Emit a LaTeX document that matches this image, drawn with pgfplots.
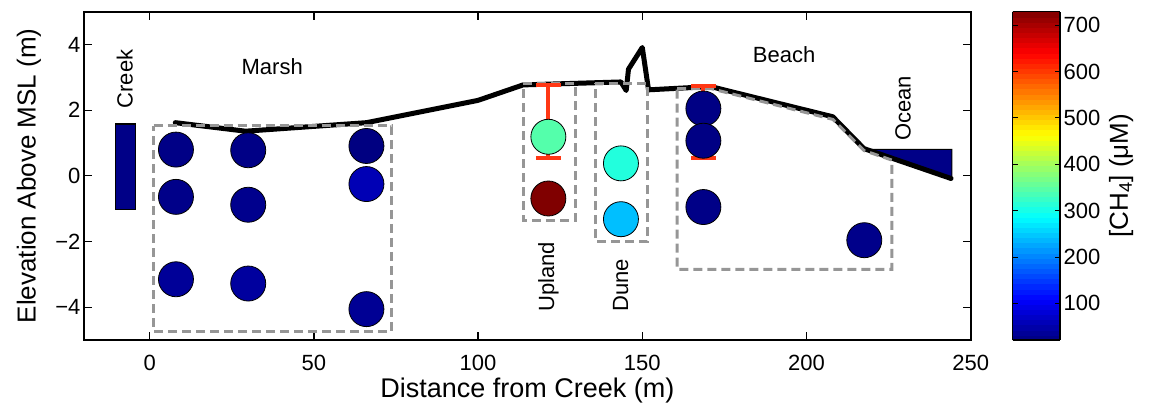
\documentclass[border=0pt]{standalone}
\usepackage{pgfplots}
\pgfplotsset{compat=1.18}
\usepackage{fontspec}
\setmainfont{Liberation Sans}

\definecolor{navy}{rgb}{0,0,0.53}
\definecolor{errred}{RGB}{255,55,20}
\definecolor{boxgray}{RGB}{150,150,150}

\pgfplotstableread{
x     y     c
8     0.80  25
8    -0.64  27
8    -3.15  38
30    0.78  25
30   -0.88  30
30   -3.28  42
66    0.91  22
66   -0.25  58
66   -4.06  35
121.4 1.19  345
121.4 -0.69 729
143.5 0.38  310
143.5 -1.32 242
168.6 2.05  24
168.6 1.07  24
168.6 -0.95 26
217.6 -1.96 28
}\pore

\begin{document}
\begin{tikzpicture}
\begin{axis}[
  scale only axis, width=886.7bp, height=328.3bp,
  xmin=-20, xmax=250, ymin=-5, ymax=5,
  xtick={0,50,...,250},
  ytick={-4,-2,...,4},
  yticklabels={−4,−2,0,2,4},
  tick align=inside, major tick length=8bp,
  axis line style={line width=2.2bp},
  tick style={line width=1.3bp, black},
  /pgf/number format/assume math mode=true,
  ticklabel style={font=\fontsize{22bp}{26bp}\selectfont},
  xticklabel style={yshift=-12bp},
  xlabel={Distance from Creek (m)},
  ylabel={Elevation Above MSL (m)},
  every axis x label/.style={at={(rel axis cs:0.5,0)}, anchor=center, yshift=-51bp,
    font=\fontsize{27bp}{31bp}\selectfont},
  every axis y label/.style={at={(rel axis cs:0,0.5)}, anchor=center, rotate=90, yshift=55bp,
    font=\fontsize{26bp}{30bp}\selectfont},
  colormap/jet,
  point meta min=21, point meta max=729,
  colorbar sampled,
  colorbar style={
    samples=65,
    at={(parent axis.north east)}, anchor=north west, xshift=33.3bp,
    scale only axis, width=47.7bp, height=328.3bp,
    ytick={100,200,...,700},
    tick align=inside, major tick length=5bp,
    ytick pos=both, yticklabel pos=right,
    axis line style={line width=1.5bp},
    tick style={line width=1bp, black},
    /pgf/number format/assume math mode=true,
    yticklabel style={font=\fontsize{22bp}{26bp}\selectfont},
    ylabel={[CH\textsubscript{4}] (μM)},
    every axis y label/.style={at={(rel axis cs:1,0.5)}, anchor=center, rotate=90, yshift=-61bp,
      font=\fontsize{26bp}{30bp}\selectfont},
  },
  clip=false,
]
\coordinate (o) at (rel axis cs:0,0);

% creek channel and ocean wedge
\addplot[fill=navy, draw=black, line width=1.2bp] coordinates {(-10.5,1.58) (-4.2,1.58) (-4.2,-1.02) (-10.5,-1.02)} -- cycle;
\addplot[fill=navy, draw=black, line width=1bp] coordinates {(218.7,0.81) (244.3,0.81) (244.3,-0.05)} -- cycle;

% surveyed ground profile
\addplot[black, line width=5bp, line join=round, line cap=round] coordinates {
(7.8,1.62) (29.2,1.36) (66,1.62) (100,2.3) (113.7,2.77) (143.5,2.86)
(145.1,2.6) (145.8,3.25) (150,3.91) (151.9,2.62) (170.8,2.72)
(208,1.8) (217.5,0.83) (244,-0.08)
};

% zone outlines
\pgfplotsset{zonebox/.style={draw=boxgray, line width=3bp, dash pattern=on 9bp off 5bp}}
\addplot[zonebox] coordinates {(1.2,1.52) (73.7,1.52) (73.7,-4.73) (1.2,-4.73)} -- cycle;
\addplot[zonebox] coordinates {(113.8,2.8) (129.8,2.8) (129.8,-1.35) (113.8,-1.35)} -- cycle;
\addplot[zonebox] coordinates {(135.7,2.82) (151.5,2.82) (151.5,-2.01) (135.7,-2.01)} -- cycle;
\addplot[zonebox] coordinates {(160.6,2.66) (170.8,2.66) (208,1.72) (217.5,0.77) (226,0.48) (226,-2.85) (160.6,-2.85)} -- cycle;

% porewater CH4 samples
\addplot[scatter, only marks, mark=*, mark size=17.5bp,
  scatter/use mapped color={draw=black, fill=mapped color, line width=0.8bp},
  point meta=explicit] table[x=x, y=y, meta=c] {\pore};

% water-table ranges
\pgfplotsset{wt/.style={errred, line width=4bp}}
\addplot[wt] coordinates {(121.4,0.53) (121.4,2.77)};
\addplot[wt] coordinates {(117.6,2.77) (125.2,2.77)};
\addplot[wt] coordinates {(117.6,0.53) (125.2,0.53)};
\addplot[wt] coordinates {(168.6,0.53) (168.6,2.73)};
\addplot[wt] coordinates {(164.8,2.73) (172.4,2.73)};
\addplot[wt] coordinates {(164.8,0.53) (172.4,0.53)};

% zone names
\begin{scope}[every node/.style={font=\fontsize{22bp}{26bp}\selectfont}]
\node at (axis cs:37.3,3.32) {Marsh};
\node at (axis cs:193.2,3.68) {Beach};
\node[rotate=90] at (axis cs:-7.6,2.95) {Creek};
\node[rotate=90] at (axis cs:229.4,2.05) {Ocean};
\node[rotate=90] at (axis cs:121.4,-3.08) {Upland};
\node[rotate=90] at (axis cs:143.4,-3.33) {Dune};
\end{scope}
\end{axis}
\pgfresetboundingbox
\path (o) ++(-84bp,-67bp) rectangle ++(1151bp,407bp);
\end{tikzpicture}
\end{document}
